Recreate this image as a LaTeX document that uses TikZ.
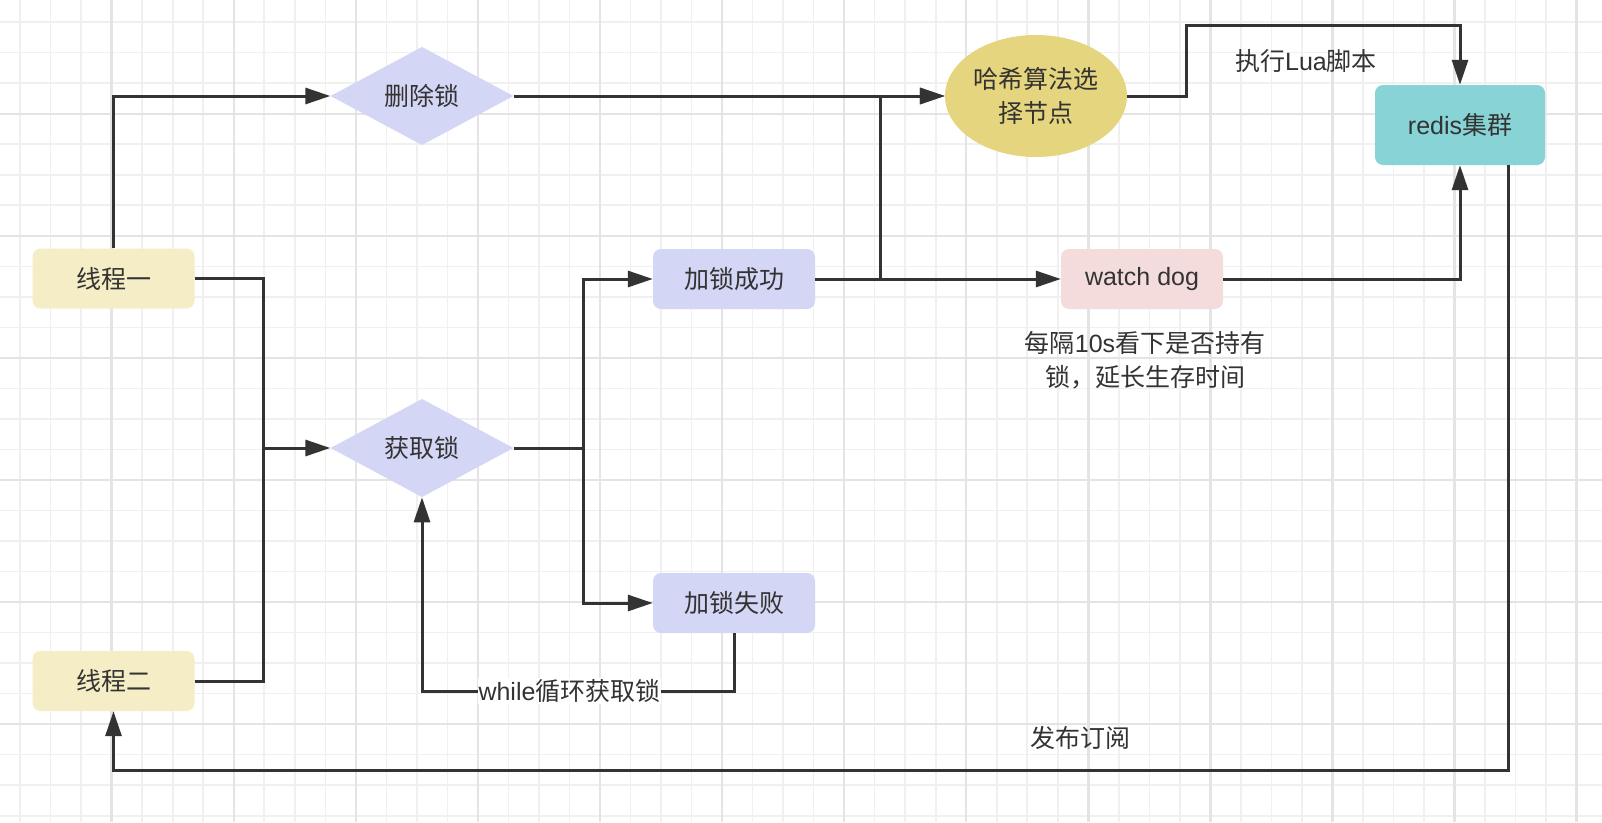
\documentclass[tikz,border=0pt]{standalone}
\usepackage{fontspec}
\setmainfont{Noto Sans CJK SC}
\newfontfamily\lat{Liberation Sans}
\usetikzlibrary{shapes.geometric,arrows.meta}
\definecolor{ink}{HTML}{333333}
\definecolor{gridminor}{HTML}{F0F0F0}
\definecolor{gridmajor}{HTML}{E4E4E4}
\definecolor{threadfill}{HTML}{F5EDC6}
\definecolor{purplefill}{HTML}{D4D6F5}
\definecolor{hashfill}{HTML}{E5D57E}
\definecolor{redisfill}{HTML}{88D3D6}
\definecolor{dogfill}{HTML}{F5DCDC}
\begin{document}
\begin{tikzpicture}[x=1pt,y=-1pt,
  every node/.style={font=\fontsize{25}{34}\selectfont, text=ink},
  boxbase/.style={rounded corners=8pt, inner sep=0pt, minimum width=162pt, minimum height=60pt},
  tbox/.style={boxbase, fill=threadfill},
  pbox/.style={boxbase, fill=purplefill},
  wbox/.style={boxbase, fill=dogfill},
  rbox/.style={boxbase, fill=redisfill, minimum width=170pt, minimum height=80pt},
  dia/.style={diamond, fill=purplefill, inner sep=0pt, minimum width=183pt, minimum height=98pt},
  ell/.style={ellipse, fill=hashfill, inner sep=0pt, minimum width=182pt, minimum height=122pt, align=center},
  lbl/.style={inner sep=1pt, align=center},
  conn/.style={draw=ink, line width=3pt},
  arr/.style={conn, -{Triangle[length=25pt,width=16pt]}},
  gminor/.style={draw=gridminor, line width=1.6pt},
  gmajor/.style={draw=gridmajor, line width=2.4pt}
]
\fill[white] (0,0) rectangle (1602,822);
\useasboundingbox (0,0) rectangle (1602,822);
% grid
\foreach \i in {0,...,53} {\pgfmathsetmacro\gx{-10.4+30.52*\i} \draw[gminor] (\gx,0) -- (\gx,822);}
\foreach \j in {0,...,27} {\pgfmathsetmacro\gy{-8.35+30.52*\j} \draw[gminor] (0,\gy) -- (1602,\gy);}
\foreach \i in {0,4,...,52} {\pgfmathsetmacro\gx{-10.4+30.52*\i} \draw[gmajor] (\gx,0) -- (\gx,822);}
\foreach \j in {0,4,...,24} {\pgfmathsetmacro\gy{-8.35+30.52*\j} \draw[gmajor] (0,\gy) -- (1602,\gy);}

% nodes
\node[tbox] (t1) at (113.5,278.5) {线程一};
\node[tbox] (t2) at (113.5,681) {线程二};
\node[dia] (del) at (422,96) {删除锁};
\node[dia] (get) at (422,448) {获取锁};
\node[pbox] (succ) at (734,279) {加锁成功};
\node[pbox] (fail) at (734,603) {加锁失败};
\node[ell] (hash) at (1036,96) {哈希算法选\\择节点};
\node[rbox] (redis) at (1460,125) {{\lat redis}集群};
\node[wbox] (wd) at (1142,279) {{\lat watch dog}};

% junction coordinates
\coordinate (busL) at (263.6,448);
\coordinate (busR) at (583,448);
\coordinate (loopR) at (734,691);
\coordinate (loopL) at (422,691);
\coordinate (jS) at (880,279);
\coordinate (jH) at (880,96);
\coordinate (lua1) at (1186,25);
\coordinate (pubC) at (1508,770);

% connectors
\draw[arr] (t1.north) |- (del.west);
\draw[arr] (t1.east) -| (busL) -- (get.west);
\draw[conn] (t2.east) -| (busL);
\draw[conn] (get.east) -- (busR);
\draw[arr] (busR) |- (succ.west);
\draw[arr] (busR) |- (fail.west);
\draw[arr] (fail.south) -- (loopR) -- (loopL) -- (get.south);
\draw[arr] (del.east) -- (hash.west);
\draw[arr] (succ.east) -- (jS) -- (jH) -- (hash.west);
\draw[arr] (succ.east) -- (wd.west);
\draw[arr] (hash.east) -| (lua1) -| (redis.north);
\draw[arr] (wd.east) -| (redis.south);
\draw[arr] (redis.south -| pubC) -- (pubC) -| (t2.south);

% labels
\node[lbl, fill=white] (wl) at (569.5,691) {{\lat while}循环获取锁};
\node[lbl] (lua) at (1306,61) {执行{\lat Lua}脚本};
\node[lbl] (pub) at (1080,738) {发布订阅};
\node[lbl] (note) at (1145,360) {每隔{\lat 10s}看下是否持有\\锁，延长生存时间};
\end{tikzpicture}
\end{document}
